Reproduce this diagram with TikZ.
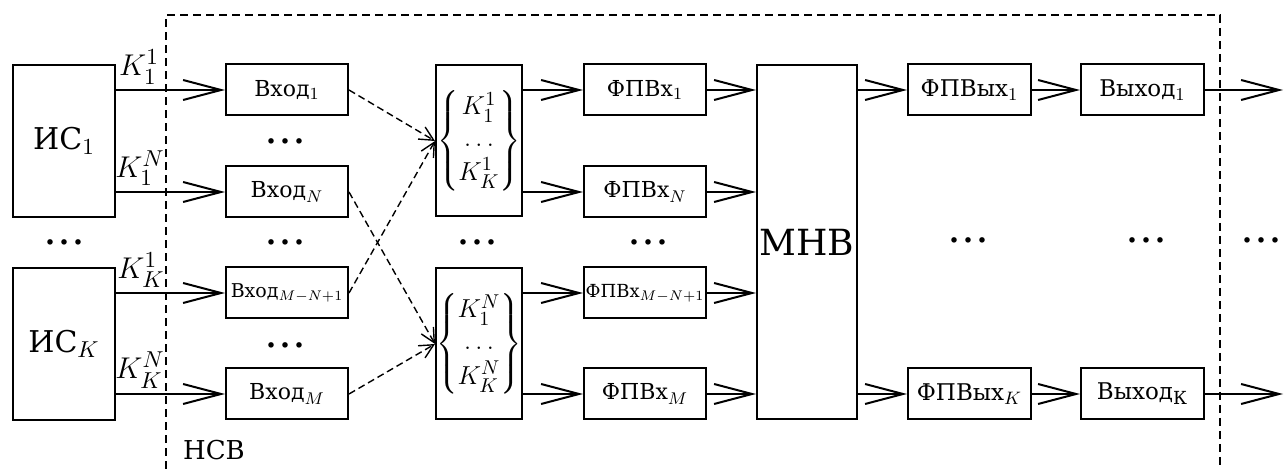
\RequirePackage{fix-cm}
\documentclass[tikz,border=0pt]{standalone}
\usepackage{amsmath}
\usepackage{fontspec}
\setmainfont{DejaVu Serif}
\DeclareMathSizes{9}{9}{7}{5.5}
\DeclareMathSizes{9.5}{9.5}{7}{5.5}
\DeclareMathSizes{11}{11}{8.5}{6.5}
\DeclareMathSizes{11.5}{11.5}{9}{7}
\DeclareMathSizes{13}{13}{10}{8}
\DeclareMathSizes{15}{15}{11.5}{9}
\usetikzlibrary{arrows.meta}
\tikzset{
  box/.style={draw, line width=1pt, inner sep=0pt, font=\fontsize{11}{13}\selectfont},
  arr/.style={line width=1pt, -{Straight Barb[length=19pt,width=10pt]}},
  darr/.style={line width=0.7pt, dash pattern=on 3.5pt off 2pt, -{Straight Barb[length=7pt,width=7pt]}},
  dotsnode/.style={inner sep=0pt, font=\fontsize{21}{23}\selectfont},
  klabel/.style={inner sep=0pt, font=\fontsize{15}{17}\selectfont}
}
\begin{document}
\begin{tikzpicture}[x=0.5pt, y=-0.5pt]
    \useasboundingbox (0,0) rectangle (1285,469);
    % sources
    \node[box, minimum width=51pt, minimum height=76pt, font=\fontsize{15}{17}\selectfont] (is1) at (64,141) {ИС$_1$};
    \node[box, minimum width=51pt, minimum height=76pt, font=\fontsize{15}{17}\selectfont] (isK) at (64,344) {ИС$_K$};
    \node[dotsnode] (d0) at (64,242) {…};
    % network boundary
    \draw[line width=1pt, dash pattern=on 4pt off 2.5pt] (166,469) -- (166,15) -- (1220,15) -- (1220,469);
    \node[font=\fontsize{13}{15}\selectfont] (nsv) at (214,450) {НСВ};
    % inputs
    \node[box, minimum width=61pt, minimum height=25.5pt] (vh1) at (287,90) {Вход$_1$};
    \node[box, minimum width=61pt, minimum height=25.5pt] (vhN) at (287,192) {Вход$_N$};
    \node[box, minimum width=61pt, minimum height=25.5pt, font=\fontsize{9.5}{11}\selectfont] (vhMN) at (287,293) {Вход$_{M-N+1}$};
    \node[box, minimum width=61pt, minimum height=25.5pt] (vhM) at (287,394) {Вход$_M$};
    \node[dotsnode] (d1) at (285,141) {…};
    \node[dotsnode] (d2) at (285,242) {…};
    \node[dotsnode] (d3) at (285,345) {…};
    % channel labels
    \node[klabel] (k11) at (139,67) {$K_1^1$};
    \node[klabel] (k1N) at (140,168) {$K_1^N$};
    \node[klabel] (kK1) at (141,270) {$K_K^1$};
    \node[klabel] (kKN) at (140,370) {$K_K^N$};
    \draw[arr] (is1.east |- vh1.west) -- (vh1.west);
    \draw[arr] (is1.east |- vhN.west) -- (vhN.west);
    \draw[arr] (isK.east |- vhMN.west) -- (vhMN.west);
    \draw[arr] (isK.east |- vhM.west) -- (vhM.west);
    % groups
    \node[box, minimum width=43pt, minimum height=75.5pt, font=\fontsize{13}{15}\selectfont] (gr1) at (479,141)
      {$\begin{Bmatrix} K_1^1 \\[1pt] \ldots \\[1pt] K_K^1 \end{Bmatrix}$};
    \node[box, minimum width=43pt, minimum height=75.5pt, font=\fontsize{13}{15}\selectfont] (grN) at (479,344)
      {$\begin{Bmatrix} K_1^N \\[1pt] \ldots \\[1pt] K_K^N \end{Bmatrix}$};
    \node[dotsnode] (d4) at (477,242) {…};
    \draw[darr] (vh1.east) -- (gr1.west);
    \draw[darr] (vhMN.east) -- (gr1.west);
    \draw[darr] (vhN.east) -- (grN.west);
    \draw[darr] (vhM.east) -- (grN.west);
    % input filters
    \node[box, minimum width=61pt, minimum height=25.5pt] (fvh1) at (645,90) {ФПВх$_1$};
    \node[box, minimum width=61pt, minimum height=25.5pt] (fvhN) at (645,192) {ФПВх$_N$};
    \node[box, minimum width=61pt, minimum height=25.5pt, font=\fontsize{9}{11}\selectfont] (fvhMN) at (645,293) {ФПВх$_{M-N+1}$};
    \node[box, minimum width=61pt, minimum height=25.5pt] (fvhM) at (645,394) {ФПВх$_M$};
    \node[dotsnode] (d5) at (648,242) {…};
    \draw[arr] (gr1.east |- fvh1.west) -- (fvh1.west);
    \draw[arr] (gr1.east |- fvhN.west) -- (fvhN.west);
    \draw[arr] (grN.east |- fvhMN.west) -- (fvhMN.west);
    \draw[arr] (grN.east |- fvhM.west) -- (fvhM.west);
    % switch
    \node[box, minimum width=50pt, minimum height=177pt, font=\fontsize{18}{20}\selectfont] (mnv) at (807,242) {МНВ};
    \draw[arr] (fvh1.east) -- (mnv.west |- fvh1.east);
    \draw[arr] (fvhN.east) -- (mnv.west |- fvhN.east);
    \draw[arr] (fvhMN.east) -- (mnv.west |- fvhMN.east);
    \draw[arr] (fvhM.east) -- (mnv.west |- fvhM.east);
    % outputs
    \node[box, minimum width=61.5pt, minimum height=25.5pt, font=\fontsize{11.5}{13}\selectfont] (fvy1) at (969.5,90) {ФПВых$_1$};
    \node[box, minimum width=61.5pt, minimum height=25.5pt, font=\fontsize{11.5}{13}\selectfont] (fvyK) at (969.5,394) {ФПВых$_K$};
    \node[box, minimum width=61.5pt, minimum height=25.5pt, font=\fontsize{11.5}{13}\selectfont] (vy1) at (1142.5,90) {Выход$_1$};
    \node[box, minimum width=61.5pt, minimum height=25.5pt, font=\fontsize{11.5}{13}\selectfont] (vyK) at (1142.5,394) {Выход$_\text{К}$};
    \node[dotsnode] (d6) at (968,240) {…};
    \node[dotsnode] (d7) at (1146,240) {…};
    \node[dotsnode] (d8) at (1261,240) {…};
    \coordinate (out1) at (1283,90);
    \coordinate (outK) at (1283,394);
    \draw[arr] (mnv.east |- fvy1.west) -- (fvy1.west);
    \draw[arr] (mnv.east |- fvyK.west) -- (fvyK.west);
    \draw[arr] (fvy1.east) -- (vy1.west);
    \draw[arr] (fvyK.east) -- (vyK.west);
    \draw[arr] (vy1.east) -- (out1);
    \draw[arr] (vyK.east) -- (outK);
\end{tikzpicture}
\end{document}
